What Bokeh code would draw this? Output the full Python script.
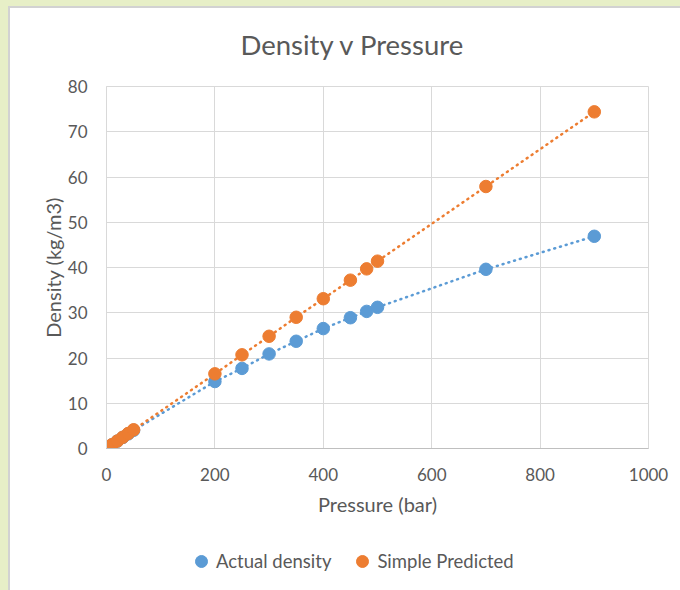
from bokeh.plotting import figure
from bokeh.models import Legend, LegendItem, FixedTicker, Range1d, Spacer
from bokeh.layouts import column, row
from bokeh.embed import file_html
from bokeh.resources import INLINE

# Data
pressure = [1, 5, 10, 20, 30, 40, 50, 200, 250, 300, 350, 400, 450, 480, 500, 700, 900]
actual_density = [0.08, 0.41, 0.82, 1.63, 2.44, 3.23, 4.02, 14.8, 17.7, 20.9, 23.7, 26.5, 28.9, 30.3, 31.2, 39.6, 46.9]
simple_predicted = [0.08, 0.41, 0.83, 1.65, 2.48, 3.31, 4.14, 16.5, 20.7, 24.8, 29.0, 33.1, 37.2, 39.7, 41.4, 57.9, 74.4]
series_names = ["Actual density", "Simple Predicted"]
chart_title = "Density v Pressure"
x_ticks = [0, 200, 400, 600, 800, 1000]
y_ticks = [0, 10, 20, 30, 40, 50, 60, 70, 80]

BLUE = "#5B9BD5"
ORANGE = "#ED7D31"
TEXT = "#595959"
GRID = "#D9D9D9"
FONT = "Lato"
BG = "#E7EFC7"
EDGE = "#D2D2D2"

# Title strip
tf = figure(width=670, height=62, output_backend="svg", toolbar_location=None,
            x_range=Range1d(0, 1), y_range=Range1d(0, 1),
            x_axis_type=None, y_axis_type=None,
            min_border_left=0, min_border_right=0, min_border_top=60, min_border_bottom=0)
tf.outline_line_color = None
tf.title.text = chart_title
tf.title.align = "left"
tf.title.vertical_align = "middle"
tf.title.offset = 134
tf.title.standoff = 13
tf.title.text_font = FONT
tf.title.text_font_size = "27.5px"
tf.title.text_font_style = "normal"
tf.title.text_color = TEXT

# Main chart
p = figure(width=670, height=462, output_backend="svg", toolbar_location=None,
           x_range=Range1d(0, 1000), y_range=Range1d(0, 80),
           min_border_left=96, min_border_right=32, min_border_top=16, min_border_bottom=84)

for ax, ticks in ((p.xaxis, x_ticks), (p.yaxis, y_ticks)):
    ax.ticker = FixedTicker(ticks=ticks)
    ax.major_tick_line_color = None
    ax.minor_tick_line_color = None
    ax.major_label_text_font = FONT
    ax.major_label_text_font_size = "17px"
    ax.major_label_text_color = TEXT
    ax.axis_label_text_font = FONT
    ax.axis_label_text_font_size = "20px"
    ax.axis_label_text_font_style = "normal"
    ax.axis_label_text_color = TEXT

p.xaxis.axis_label = "Pressure (bar)"
p.yaxis.axis_label = "Density (kg/m3)"
p.xaxis.axis_line_color = "#BFBFBF"
p.yaxis.axis_line_color = GRID
p.xaxis.major_label_standoff = 13
p.yaxis.major_label_standoff = 13
p.xaxis.axis_label_standoff = 8
p.yaxis.axis_label_standoff = 0

p.xgrid.ticker = FixedTicker(ticks=x_ticks)
p.ygrid.ticker = FixedTicker(ticks=y_ticks)
p.grid.grid_line_color = GRID
p.outline_line_color = GRID

p.line(pressure, actual_density, line_color=BLUE, line_width=2.5, line_dash="1 5", line_cap="round")
p.line(pressure, simple_predicted, line_color=ORANGE, line_width=2.5, line_dash="1 5", line_cap="round")
p.scatter(pressure, actual_density, size=12.5, fill_color=BLUE, line_color=BLUE)
p.scatter(pressure, simple_predicted, size=12.5, fill_color=ORANGE, line_color=ORANGE)

# Legend strip below the chart: its key renderers use the same series, outside its view
lg = figure(width=670, height=58, output_backend="svg", toolbar_location=None,
            x_range=Range1d(-2, -1), y_range=Range1d(-2, -1),
            x_axis_type=None, y_axis_type=None,
            min_border_left=0, min_border_right=0, min_border_top=0, min_border_bottom=0)
lg.outline_line_color = None
k1 = lg.scatter(pressure, actual_density, size=12, fill_color=BLUE, line_color=BLUE)
k2 = lg.scatter(pressure, simple_predicted, size=12, fill_color=ORANGE, line_color=ORANGE)
legend = Legend(items=[LegendItem(label=series_names[0], renderers=[k1]),
                       LegendItem(label=series_names[1], renderers=[k2])],
                orientation="horizontal", location=(80, 14),
                border_line_color=None, background_fill_alpha=0,
                label_text_font=FONT, label_text_font_size="18.5px", label_text_color=TEXT,
                glyph_width=30, glyph_height=30, label_standoff=0, spacing=16,
                padding=0, margin=0)
lg.add_layout(legend)

page = column(
    Spacer(width=680, height=6, styles={"background-color": BG}),
    row(Spacer(width=8, height=2, styles={"background-color": BG}),
        Spacer(width=672, height=2, styles={"background-color": EDGE})),
    row(Spacer(width=8, height=582, styles={"background-color": BG}),
        Spacer(width=2, height=582, styles={"background-color": EDGE}),
        column(tf, p, lg)),
)

open("out.html", "w").write(file_html(page, INLINE))
